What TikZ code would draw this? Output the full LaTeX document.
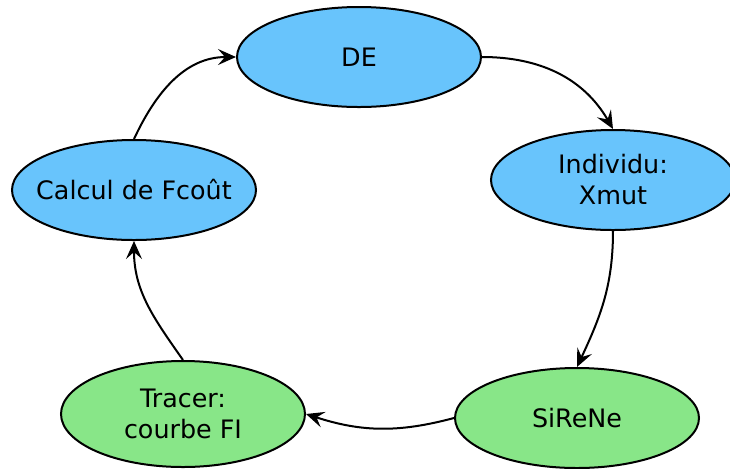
\documentclass[tikz,border=0pt]{standalone}
\usepackage{fontspec}
\setmainfont{DejaVu Sans}
\usepackage{xcolor}
\usetikzlibrary{shapes.geometric, arrows.meta}

\definecolor{stepblue}{RGB}{104,196,252}
\definecolor{stepgreen}{RGB}{136,230,136}

\begin{document}
\begin{tikzpicture}[
    x=0.5pt, y=-0.5pt,
    ell/.style      = {ellipse, draw, line width=1pt, minimum width=122pt,
                       minimum height=50pt, inner sep=0pt, align=center,
                       font=\fontsize{12.7}{15.5}\selectfont},
    blueell/.style  = {ell, fill=stepblue},
    greenell/.style = {ell, fill=stepgreen},
    arr/.style      = {-{Stealth[length=9pt, width=8pt, inset=3.5pt]}, line width=1pt},
]
\useasboundingbox (0,0) rectangle (730,468);
\clip (0,0) rectangle (730,468);

%% -- cycle nodes --------------------------------------------------------
\node[blueell]                     (de)     at (359,57)  {DE};
\node[blueell]                     (indiv)  at (613,180) {Individu:\\Xmut};
\node[greenell]                    (sirene) at (577,418) {SiReNe};
\node[greenell, minimum height=53pt] (tracer) at (183,414) {Tracer:\\courbe FI};
\node[blueell, inner xsep=-6pt]    (calcul) at (134,190) {Calcul de Fcoût};

%% -- cycle arrows -------------------------------------------------------
\draw[arr] (de.east)     to[out=0,   in=120] (indiv.north);
\draw[arr] (indiv.south) to[out=-90, in=65]  (sirene.north);
\draw[arr] (sirene.west) to[out=195, in=-18] (tracer.east);
\draw[arr] (tracer.north) to[out=125, in=-90] (calcul.south);
\draw[arr] (calcul.north) to[out=65, in=180] (de.west);

\end{tikzpicture}
\end{document}
